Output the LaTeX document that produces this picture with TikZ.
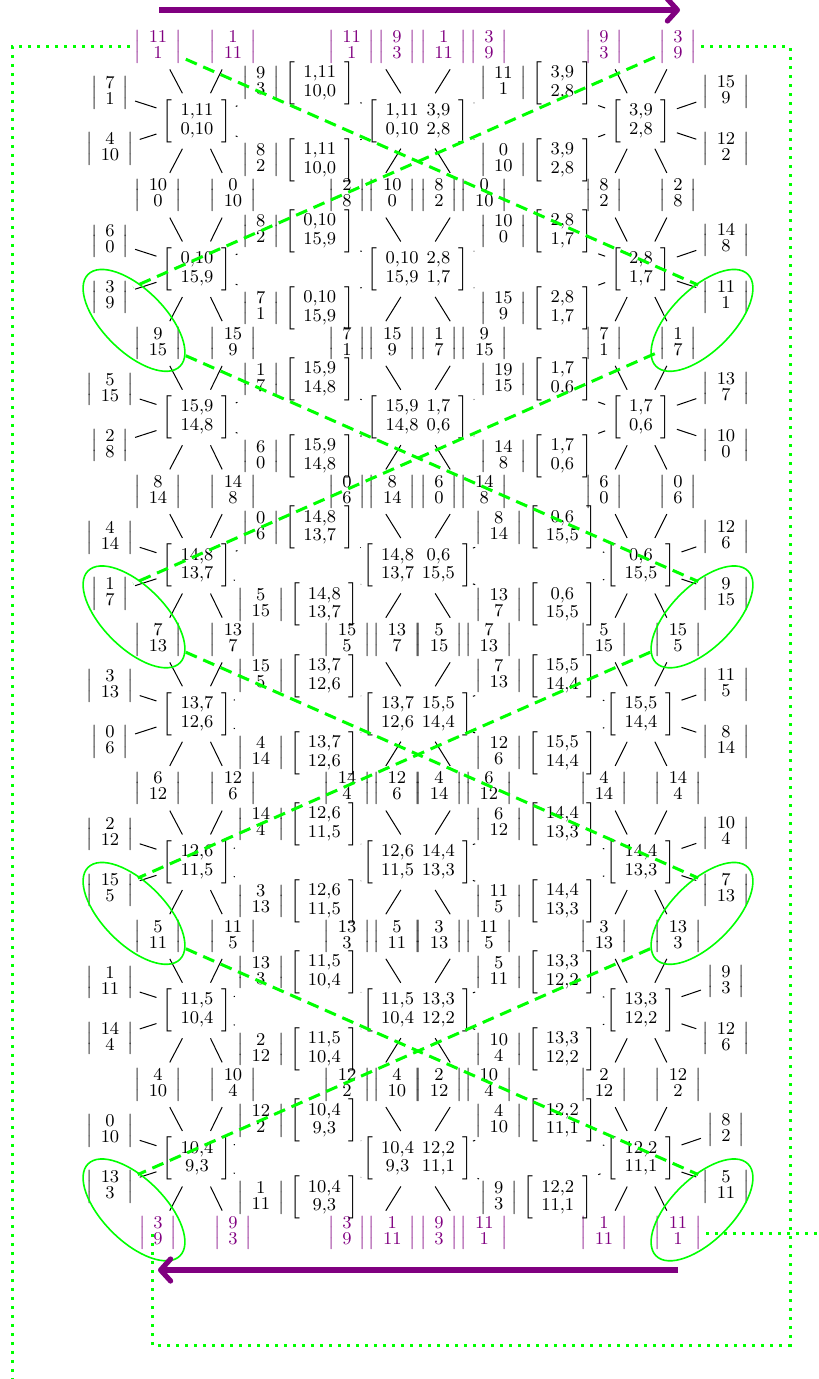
\documentclass[tikz,border=0pt]{standalone}
\usepackage{amsmath}
\usepackage{xcolor}
\usepackage{tikz}
\usetikzlibrary{arrows.meta,shapes.geometric,calc}
\definecolor{flowpurple}{RGB}{128,0,128}

% |a;b| vectors and [..] blocks
\newcommand{\vv}[2]{$\left|\renewcommand{\arraystretch}{0.655}\begin{array}{@{\hspace{4pt}}c@{\hspace{4pt}}}#1\\#2\end{array}\right|$}
\newcommand{\mm}[2]{$\left[\renewcommand{\arraystretch}{0.85}\begin{array}{@{\hspace{4pt}}c@{\hspace{4pt}}}#1\\#2\end{array}\right]$}
\newcommand{\mmm}[4]{$\left[\renewcommand{\arraystretch}{0.85}\begin{array}{@{\hspace{4pt}}c@{\hspace{4pt}}c@{\hspace{4pt}}}#1&#2\\#3&#4\end{array}\right]$}

\begin{document}
\begin{tikzpicture}[x=0.5pt, y=-0.5pt,
  cell/.style={inner sep=2pt, font=\small},
  spoke/.style={line width=0.5pt, shorten <=1pt, shorten >=1pt},
  hop/.style={green, line width=1.5pt, dash pattern=on 6pt off 3.5pt},
  loopback/.style={green, line width=1.5pt, dash pattern=on 1.5pt off 3pt},
  ring/.style={draw=green, thick, ellipse, minimum width=65pt,
               minimum height=31pt, inner sep=0pt},
  flow/.style={flowpurple, line width=2.6pt,
               -{Straight Barb[length=5pt, width=11pt, round]}}
]
\useasboundingbox (0,0) rectangle (818,1379);

% boundary vectors between the rows
\foreach \j/\cl/\Aa/\Ab/\Ba/\Bb/\Ea/\Eb/\Ec/\Ed/\Fa/\Fb/\Fc/\Fd/\Ga/\Gb/\Ha/\Hb in {
  0/flowpurple/11/1/1/11/11/1/9/3/1/11/3/9/9/3/3/9,
  1/black/10/0/0/10/2/8/10/0/8/2/0/10/8/2/2/8,
  2/black/9/15/15/9/7/1/15/9/1/7/9/15/7/1/1/7,
  3/black/8/14/14/8/0/6/8/14/6/0/14/8/6/0/0/6,
  4/black/7/13/13/7/15/5/13/7/5/15/7/13/5/15/15/5,
  5/black/6/12/12/6/14/4/12/6/4/14/6/12/4/14/14/4,
  6/black/5/11/11/5/13/3/5/11/3/13/11/5/3/13/13/3,
  7/black/4/10/10/4/12/2/4/10/2/12/10/4/2/12/12/2,
  8/flowpurple/3/9/9/3/3/9/1/11/9/3/11/1/1/11/11/1}{
  \node[cell, text=\cl] (la\j) at (158, 47+148.25*\j) {\vv{\Aa}{\Ab}};
  \node[cell, text=\cl] (lb\j) at (233, 47+148.25*\j) {\vv{\Ba}{\Bb}};
  \node[cell, text=\cl] (ma\j) at (372, 47+148.25*\j) {\vv{\Ea}{\Eb}\hspace{1.5pt}\vv{\Ec}{\Ed}};
  \node[cell, text=\cl] (mb\j) at (464, 47+148.25*\j) {\vv{\Fa}{\Fb}\hspace{1.5pt}\vv{\Fc}{\Fd}};
  \node[cell, text=\cl] (ra\j) at (604, 47+148.25*\j) {\vv{\Ga}{\Gb}};
  \node[cell, text=\cl] (rb\j) at (678, 47+148.25*\j) {\vv{\Ha}{\Hb}};
}

% rows: centres, side vectors, in-between blocks
\foreach \k/\Ca/\Cb/\Cc/\Cd/\Ka/\Kb/\Da/\Db/\Dc/\Dd/\Ua/\Ub/\Va/\Vb/\Pa/\Pb/\Qa/\Qb/\Sa/\Sb/\Ta/\Tb/\Wa/\Wb/\Xa/\Xb in {
  0/1/11/0/10/10/0/3/9/2/8/7/1/4/10/9/3/8/2/11/1/0/10/15/9/12/2,
  1/0/10/15/9/15/9/2/8/1/7/6/0/3/9/8/2/7/1/10/0/15/9/14/8/11/1,
  2/15/9/14/8/14/8/1/7/0/6/5/15/2/8/1/7/6/0/19/15/14/8/13/7/10/0,
  3/14/8/13/7/13/7/0/6/15/5/4/14/1/7/0/6/5/15/8/14/13/7/12/6/9/15,
  4/13/7/12/6/12/6/15/5/14/4/3/13/0/6/15/5/4/14/7/13/12/6/11/5/8/14,
  5/12/6/11/5/11/5/14/4/13/3/2/12/15/5/14/4/3/13/6/12/11/5/10/4/7/13,
  6/11/5/10/4/10/4/13/3/12/2/1/11/14/4/13/3/2/12/5/11/10/4/9/3/12/6,
  7/10/4/9/3/9/3/12/2/11/1/0/10/13/3/12/2/1/11/4/10/9/3/8/2/5/11}{
  \node[cell] (L\k) at (197, 121+148.25*\k) {\mm{\Ca{,}\Cb}{\Cc{,}\Cd}};
  \node[cell] (M\k) at (418, 121+148.25*\k) {\mmm{\Ca{,}\Cb}{\Da{,}\Db}{\Cc{,}\Cd}{\Dc{,}\Dd}};
  \node[cell] (R\k) at (641, 121+148.25*\k) {\mm{\Da{,}\Db}{\Dc{,}\Dd}};
  \node[cell] (lu\k) at (110, 93+148.25*\k) {\vv{\Ua}{\Ub}};
  \node[cell] (ld\k) at (110, 149+148.25*\k) {\vv{\Va}{\Vb}};
  \node[cell] (pu\k) at (298, 83+148.25*\k) {\vv{\Pa}{\Pb}\hspace{3pt}\mm{\Ca{,}\Cb}{\Ka{,}\Kb}};
  \node[cell] (pd\k) at (298, 160+148.25*\k) {\vv{\Qa}{\Qb}\hspace{3pt}\mm{\Ca{,}\Cb}{\Ka{,}\Kb}};
  \node[cell] (qu\k) at (536, 83+148.25*\k) {\vv{\Sa}{\Sb}\hspace{3pt}\mm{\Da{,}\Db}{\Dc{,}\Dd}};
  \node[cell] (qd\k) at (536, 160+148.25*\k) {\vv{\Ta}{\Tb}\hspace{3pt}\mm{\Da{,}\Db}{\Dc{,}\Dd}};
  \node[cell] (ru\k) at (726, 92+148.25*\k) {\vv{\Wa}{\Wb}};
  \node[cell] (rd\k) at (726, 149+148.25*\k) {\vv{\Xa}{\Xb}};
}

% spokes
\foreach \k in {0,...,7}{
  \pgfmathtruncatemacro{\kk}{\k+1}
  \foreach \t in {la\k,lb\k,la\kk,lb\kk,lu\k,ld\k,pu\k,pd\k}
    \draw[spoke] (L\k) -- (\t);
  \foreach \t in {ma\k,mb\k,ma\kk,mb\kk,pu\k,pd\k,qu\k,qd\k}
    \draw[spoke] (M\k) -- (\t);
  \foreach \t in {ra\k,rb\k,ra\kk,rb\kk,qu\k,qd\k,ru\k,rd\k}
    \draw[spoke] (R\k) -- (\t);
}

% crossings
\foreach \j/\k in {0/1,2/3,4/5,6/7}{
  \draw[hop] (la\j) -- (rd\k);
  \draw[hop] (rb\j) -- (ld\k);
}

% rings
\foreach \k/\kk in {1/2,3/4,5/6,7/8}{
  \node[ring, rotate=-45] (ringl\k) at ($(ld\k)!0.5!(la\kk)$) {};
  \node[ring, rotate=45] (ringr\k) at ($(rd\k)!0.5!(rb\kk)$) {};
}

% wrap-around
\coordinate (wl) at (12,1400);
\coordinate (wr) at (790,1345);
\coordinate (we) at (840,1233);
\draw[loopback] (la0.west) -| (wl);
\draw[loopback] (rb0.east) -| (wr) -| ([xshift=-3pt]la8.center);
\draw[loopback] (rb8.east) -- (we);

% direction arrows
\coordinate (ftop0) at (159,10);
\coordinate (ftop1) at (680,10);
\coordinate (fbot0) at (678,1270);
\coordinate (fbot1) at (158,1270);
\draw[flow] (ftop0) -- (ftop1);
\draw[flow] (fbot0) -- (fbot1);
\end{tikzpicture}
\end{document}
